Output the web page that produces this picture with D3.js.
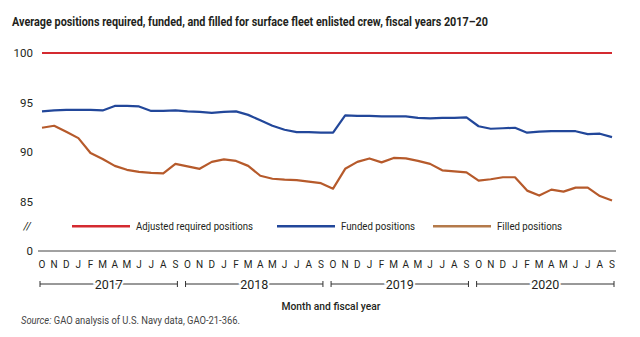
<!DOCTYPE html>
<html>
<head>
<meta charset="utf-8">
<script src="https://cdn.jsdelivr.net/npm/d3@7"></script>
<style>
  body { margin: 0; background: #fff; }
  text { font-family: Roboto, 'Open Sans', sans-serif; fill: #231f20; }
</style>
</head>
<body>
<div id="chart"></div>
<script>
// Month labels for one fiscal year (October to September)
const months = ['O', 'N', 'D', 'J', 'F', 'M', 'A', 'M', 'J', 'J', 'A', 'S']
const fiscalYears = ['2017', '2018', '2019', '2020']
const yTicks = [0, 85, 90, 95, 100]

// Percent of positions, monthly, FY2017 - FY2020
const adjusted = [
  100, 100, 100, 100, 100, 100, 100, 100, 100, 100, 100, 100,
  100, 100, 100, 100, 100, 100, 100, 100, 100, 100, 100, 100,
  100, 100, 100, 100, 100, 100, 100, 100, 100, 100, 100, 100,
  100, 100, 100, 100, 100, 100, 100, 100, 100, 100, 100, 100
]
const funded = [
  94.1, 94.2, 94.25, 94.25, 94.25, 94.2, 94.65, 94.65, 94.6, 94.15, 94.15, 94.2,
  94.1, 94.05, 93.95, 94.05, 94.1, 93.75, 93.2, 92.65, 92.25, 92.0, 92.0, 91.95,
  91.95, 93.7, 93.65, 93.65, 93.6, 93.6, 93.6, 93.45, 93.4, 93.45, 93.45, 93.5,
  92.6, 92.35, 92.4, 92.45, 91.95, 92.05, 92.1, 92.1, 92.1, 91.8, 91.85, 91.5
]
const filled = [
  92.45, 92.65, 92.05, 91.4, 89.9, 89.3, 88.6, 88.2, 88.0, 87.9, 87.85, 88.8,
  88.55, 88.3, 89.0, 89.25, 89.1, 88.6, 87.6, 87.3, 87.2, 87.15, 87.0, 86.85,
  86.3, 88.3, 89.0, 89.35, 88.95, 89.4, 89.35, 89.1, 88.8, 88.15, 88.05, 87.95,
  87.1, 87.25, 87.45, 87.45, 86.1, 85.6, 86.2, 86.0, 86.4, 86.4, 85.55, 85.1
]

const series = [
  { name: 'Adjusted required positions', values: adjusted, color: '#d42a30', legendColor: '#d42a30', lx: 72, tw: 117 },
  { name: 'Funded positions', values: funded, color: '#22479a', legendColor: '#22479a', lx: 277, tw: 74 },
  { name: 'Filled positions', values: filled, color: '#b65a2b', legendColor: '#b47a4a', lx: 433, tw: 65 }
]

const width = 640
const height = 337

const svg = d3.select('#chart')
  .append('svg')
  .attr('width', width)
  .attr('height', height)

svg.append('rect')
  .attr('width', width)
  .attr('height', height)
  .attr('fill', '#fff')

// squeeze a text element to a given width
function fit (sel, w) {
  sel.attr('textLength', w).attr('lengthAdjust', 'spacingAndGlyphs')
}

svg.append('text')
  .attr('x', 12)
  .attr('y', 26)
  .attr('font-size', 12.5)
  .attr('font-weight', 'bold')
  .text('Average positions required, funded, and filled for surface fleet enlisted crew, fiscal years 2017\u201320')
  .call(fit, 476)

const n = months.length * fiscalYears.length
const x = d3.scaleLinear()
  .domain([0, n - 1])
  .range([42, 612])

// broken axis: 0 sits below the 85-100 band
const y = d3.scaleLinear()
  .domain([0, 85, 100])
  .range([251, 201.5, 53])

// y tick labels
svg.append('g')
  .selectAll('text')
  .data(yTicks)
  .join('text')
  .attr('x', 33)
  .attr('y', d => y(d))
  .attr('dy', '0.35em')
  .attr('text-anchor', 'end')
  .attr('font-size', 11.5)
  .text(d => d)

svg.append('text')
  .attr('x', 31)
  .attr('y', (y(0) + y(85)) / 2)
  .attr('dy', '0.35em')
  .attr('text-anchor', 'end')
  .attr('font-size', 11)
  .attr('font-style', 'italic')
  .text('//')

// x axis line
svg.append('line')
  .attr('x1', 38)
  .attr('x2', 616)
  .attr('y1', y(0))
  .attr('y2', y(0))
  .attr('stroke', '#444')
  .attr('stroke-width', 1)

const monthLabels = d3.range(n).map(i => months[i % 12])
svg.append('g')
  .selectAll('text')
  .data(monthLabels)
  .join('text')
  .attr('x', (d, i) => x(i))
  .attr('y', 268)
  .attr('text-anchor', 'middle')
  .attr('font-size', 10)
  .text(d => d)

// fiscal year brackets
const yb = 284
const years = svg.append('g')
  .selectAll('g')
  .data(fiscalYears)
  .join('g')

years.append('line')
  .attr('x1', (d, i) => x(i * 12) - 2)
  .attr('x2', (d, i) => x(i * 12 + 11) + 2)
  .attr('y1', yb)
  .attr('y2', yb)
  .attr('stroke', '#333')
  .attr('stroke-width', 1)

years.selectAll('.end')
  .data((d, i) => [x(i * 12) - 2, x(i * 12 + 11) + 2])
  .join('line')
  .attr('class', 'end')
  .attr('x1', d => d)
  .attr('x2', d => d)
  .attr('y1', yb - 3)
  .attr('y2', yb + 3)
  .attr('stroke', '#333')
  .attr('stroke-width', 1)

years.append('text')
  .attr('x', (d, i) => (x(i * 12) + x(i * 12 + 11)) / 2)
  .attr('y', yb)
  .attr('dy', '0.36em')
  .attr('text-anchor', 'middle')
  .attr('font-size', 12.5)
  .attr('stroke', '#fff')
  .attr('stroke-width', 4)
  .attr('paint-order', 'stroke')
  .text(d => d)

svg.append('text')
  .attr('x', 331)
  .attr('y', 310)
  .attr('text-anchor', 'middle')
  .attr('font-size', 11)
  .attr('font-weight', 500)
  .text('Month and fiscal year')
  .call(fit, 99)

const src = svg.append('text')
  .attr('x', 21)
  .attr('y', 324)
  .attr('font-size', 10)
  .style('fill', '#444')
src.append('tspan').attr('font-style', 'italic').text('Source:')
src.append('tspan').text(' GAO analysis of U.S. Navy data, GAO-21-366.')
src.call(fit, 219)

// series lines
const line = d3.line()
  .x((d, i) => x(i))
  .y(d => y(d))

svg.append('g')
  .selectAll('path')
  .data(series)
  .join('path')
  .attr('fill', 'none')
  .attr('stroke', d => d.color)
  .attr('stroke-width', 2.2)
  .attr('stroke-linejoin', 'round')
  .attr('d', d => line(d.values))

// legend
const ly = (y(0) + y(85)) / 2
const legend = svg.append('g')
  .selectAll('g')
  .data(series)
  .join('g')

legend.append('line')
  .attr('x1', d => d.lx)
  .attr('x2', d => d.lx + 58)
  .attr('y1', ly)
  .attr('y2', ly)
  .attr('stroke', d => d.legendColor)
  .attr('stroke-width', 2.5)

legend.append('text')
  .attr('x', d => d.lx + 64)
  .attr('y', ly)
  .attr('dy', '0.35em')
  .attr('font-size', 11.5)
  .text(d => d.name)
  .each(function (d) { d3.select(this).call(fit, d.tw) })
</script>
</body>
</html>
